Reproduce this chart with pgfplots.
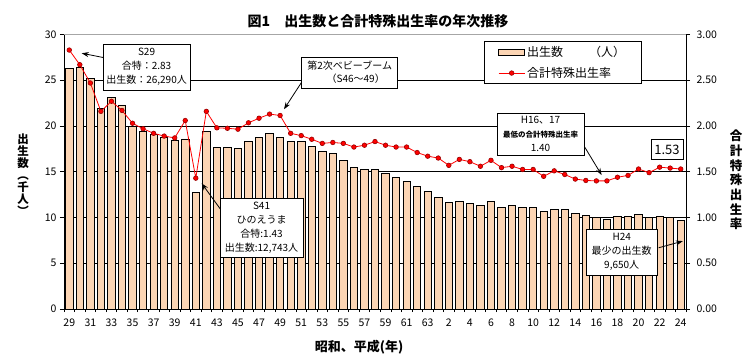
\documentclass[border=0pt]{standalone}
\usepackage{pgfplots}
\pgfplotsset{compat=1.18}
\usepackage{pgfplotstable}
\usepackage{fontspec}
\setmainfont{Noto Sans CJK JP}
\usetikzlibrary{arrows.meta}
\definecolor{barfill}{RGB}{252,213,180}
\definecolor{mk}{RGB}{150,0,0}
\pgfplotsset{linelegend/.style={legend image code/.code={\draw[mark repeat=2,mark phase=2,##1] plot coordinates {(0pt,0pt) (13pt,0pt) (26pt,0pt)};}}}

\pgfplotstableread{
idx births tfr
0 26.29 2.83
1 26.40 2.67
2 25.20 2.47
3 21.90 2.16
4 23.10 2.27
5 22.30 2.17
6 20.00 2.03
7 19.45 1.97
8 19.10 1.92
9 18.76 1.89
10 18.47 1.87
11 18.58 2.06
12 12.743 1.43
13 19.45 2.16
14 17.67 1.98
15 17.67 1.975
16 17.56 1.965
17 18.33 2.035
18 18.76 2.085
19 19.20 2.13
20 18.76 2.115
21 18.33 1.92
22 18.33 1.895
23 17.78 1.855
24 17.23 1.81
25 17.00 1.82
26 16.25 1.81
27 15.48 1.77
28 15.26 1.79
29 15.26 1.83
30 14.82 1.79
31 14.39 1.77
32 13.95 1.77
33 13.40 1.71
34 12.86 1.67
35 12.20 1.65
36 11.65 1.57
37 11.76 1.635
38 11.54 1.61
39 11.36 1.56
40 11.76 1.625
41 11.10 1.545
42 11.32 1.56
43 11.10 1.525
44 11.10 1.525
45 10.67 1.45
46 10.88 1.51
47 10.88 1.47
48 10.45 1.42
49 10.23 1.405
50 10.00 1.40
51 9.79 1.40
52 10.12 1.44
53 10.12 1.46
54 10.34 1.53
55 10.00 1.49
56 10.12 1.55
57 10.00 1.54
58 9.65 1.53
}\datatable

\begin{document}
\begin{tikzpicture}
\path[use as bounding box] (0pt,0pt) rectangle (756pt,362pt);
% title and axis titles
\node[font=\fontsize{14}{16}\selectfont\bfseries] at (378pt,341pt) {図1\hspace{1em}出生数と合計特殊出生率の年次推移};
\node[font=\fontsize{11.5}{12}\selectfont\bfseries, align=center] at (23pt,187pt) {出\\生\\数\\︵\\千\\人\\︶};
\node[font=\fontsize{12.5}{14.7}\selectfont\bfseries, align=center] at (736pt,182pt) {合\\計\\特\\殊\\出\\生\\率};
\node[font=\fontsize{13}{15}\selectfont\bfseries] at (359pt,15pt) {昭和、平成(年)};

\begin{axis}[
  at={(64pt,53pt)}, anchor=south west,
  width=622pt, height=274.5pt, scale only axis,
  xmin=-0.5, xmax=58.5, ymin=0, ymax=30,
  ytick={0,5,...,30},
  ymajorgrids, grid style={black, line width=0.8pt},
  xtick={0,2,...,58},
  xticklabels={29,31,33,35,37,39,41,43,45,47,49,51,53,55,57,59,61,63,2,4,6,8,10,12,14,16,18,20,22,24},
  major x tick style={draw=none},
  minor xtick={-0.5,0.5,...,58.5},
  minor x tick style={black, line width=0.6pt},
  minor tick length=3pt,
  xtick pos=bottom, ytick pos=left,
  y tick style={black, line width=0.6pt},
  major tick length=4pt,
  tick align=outside,
  axis line style={black, line width=0.8pt},
  tick label style={font=\fontsize{10.5}{12}\selectfont},
  /pgf/number format/assume math mode=true,
  xticklabel style={yshift=-2pt},
]
\addplot[ybar, bar width=7.4pt, fill=barfill, draw=black, line width=0.8pt] table[x=idx,y=births]{\datatable};
\end{axis}

\begin{axis}[
  at={(64pt,53pt)}, anchor=south west,
  width=622pt, height=274.5pt, scale only axis,
  xmin=-0.5, xmax=58.5, ymin=0, ymax=3,
  axis x line=none, axis y line*=right,
  ytick={0,0.5,...,3},
  y tick style={black, line width=0.6pt},
  major tick length=4pt, tick align=outside,
  axis line style={black, line width=0.8pt, -},
  tick label style={font=\fontsize{10.5}{12}\selectfont},
  /pgf/number format/assume math mode=true,
  yticklabel style={/pgf/number format/fixed, /pgf/number format/fixed zerofill, /pgf/number format/precision=2, xshift=3pt},
  clip=false,
  legend cell align=left,
  legend style={at={(0.675,0.976)}, anchor=north west, draw=black, line width=0.8pt, fill=white,
    font=\fontsize{12}{14}\selectfont, inner xsep=14pt, inner ysep=3pt, row sep=5pt},
]
\addlegendimage{legend image code/.code={\draw[fill=barfill,draw=black,line width=0.8pt] (0pt,-3pt) rectangle (26pt,3pt);}}
\addlegendentry{出生数\hspace{26pt}（人）}
\addplot[red, line width=0.8pt, mark=*, mark size=2.3pt, mark options={fill=red, draw=mk, line width=0.6pt}, linelegend]
  table[x=idx,y=tfr]{\datatable};
\addlegendentry{合計特殊出生率}
% top border gray
\draw[gray!70, line width=0.9pt] (rel axis cs:0,1) -- (rel axis cs:1,1);
% annotations
\tikzset{ann/.style={draw=black, line width=0.8pt, fill=white, align=center, inner sep=1pt, font=\fontsize{10}{14}\selectfont},
         arr/.style={black, line width=0.8pt, -{Stealth[length=7pt,width=5pt]}}}
\draw[arr] (axis cs:3.6,2.74) -- (axis cs:1.18,2.795);
\node[ann, minimum width=87pt, minimum height=46pt] at (axis cs:7.33,2.645) {S29\\合特：2.83\\出生数：26,290人};
\draw[arr] (axis cs:22.43,2.547) -- (axis cs:20.37,2.183);
\node[ann, minimum width=96pt, minimum height=31pt, font=\fontsize{10}{13}\selectfont] at (axis cs:26.6,2.585) {第2次ベビーブーム\\\hspace{1.2em}（S46～49）};
\draw[arr] (axis cs:14.6,1.05) -- (axis cs:12.56,1.373);
\node[ann, minimum width=83pt, minimum height=59pt] at (axis cs:18.24,0.89) {S41\\ひのえうま\\合特:1.43\\出生数:12,743人};
\draw[arr] (axis cs:48.87,1.774) -- (axis cs:50.5,1.464);
\node[ann, minimum width=87pt, minimum height=42pt] at (axis cs:44.7,1.91) {H16、17\\{\fontsize{7.5}{9}\selectfont\bfseries 最低の合計特殊出生率}\\1.40};
\node[ann, minimum width=32pt, minimum height=20pt, font=\fontsize{13}{14}\selectfont] at (axis cs:56.7,1.74) {1.53};
\draw[arr] (axis cs:55.9,0.669) -- (axis cs:58.2,0.742);
\node[ann, minimum width=71pt, minimum height=46pt] at (axis cs:52.4,0.62) {H24\\最少の出生数\\9,650人};
\end{axis}
\end{tikzpicture}
\end{document}
